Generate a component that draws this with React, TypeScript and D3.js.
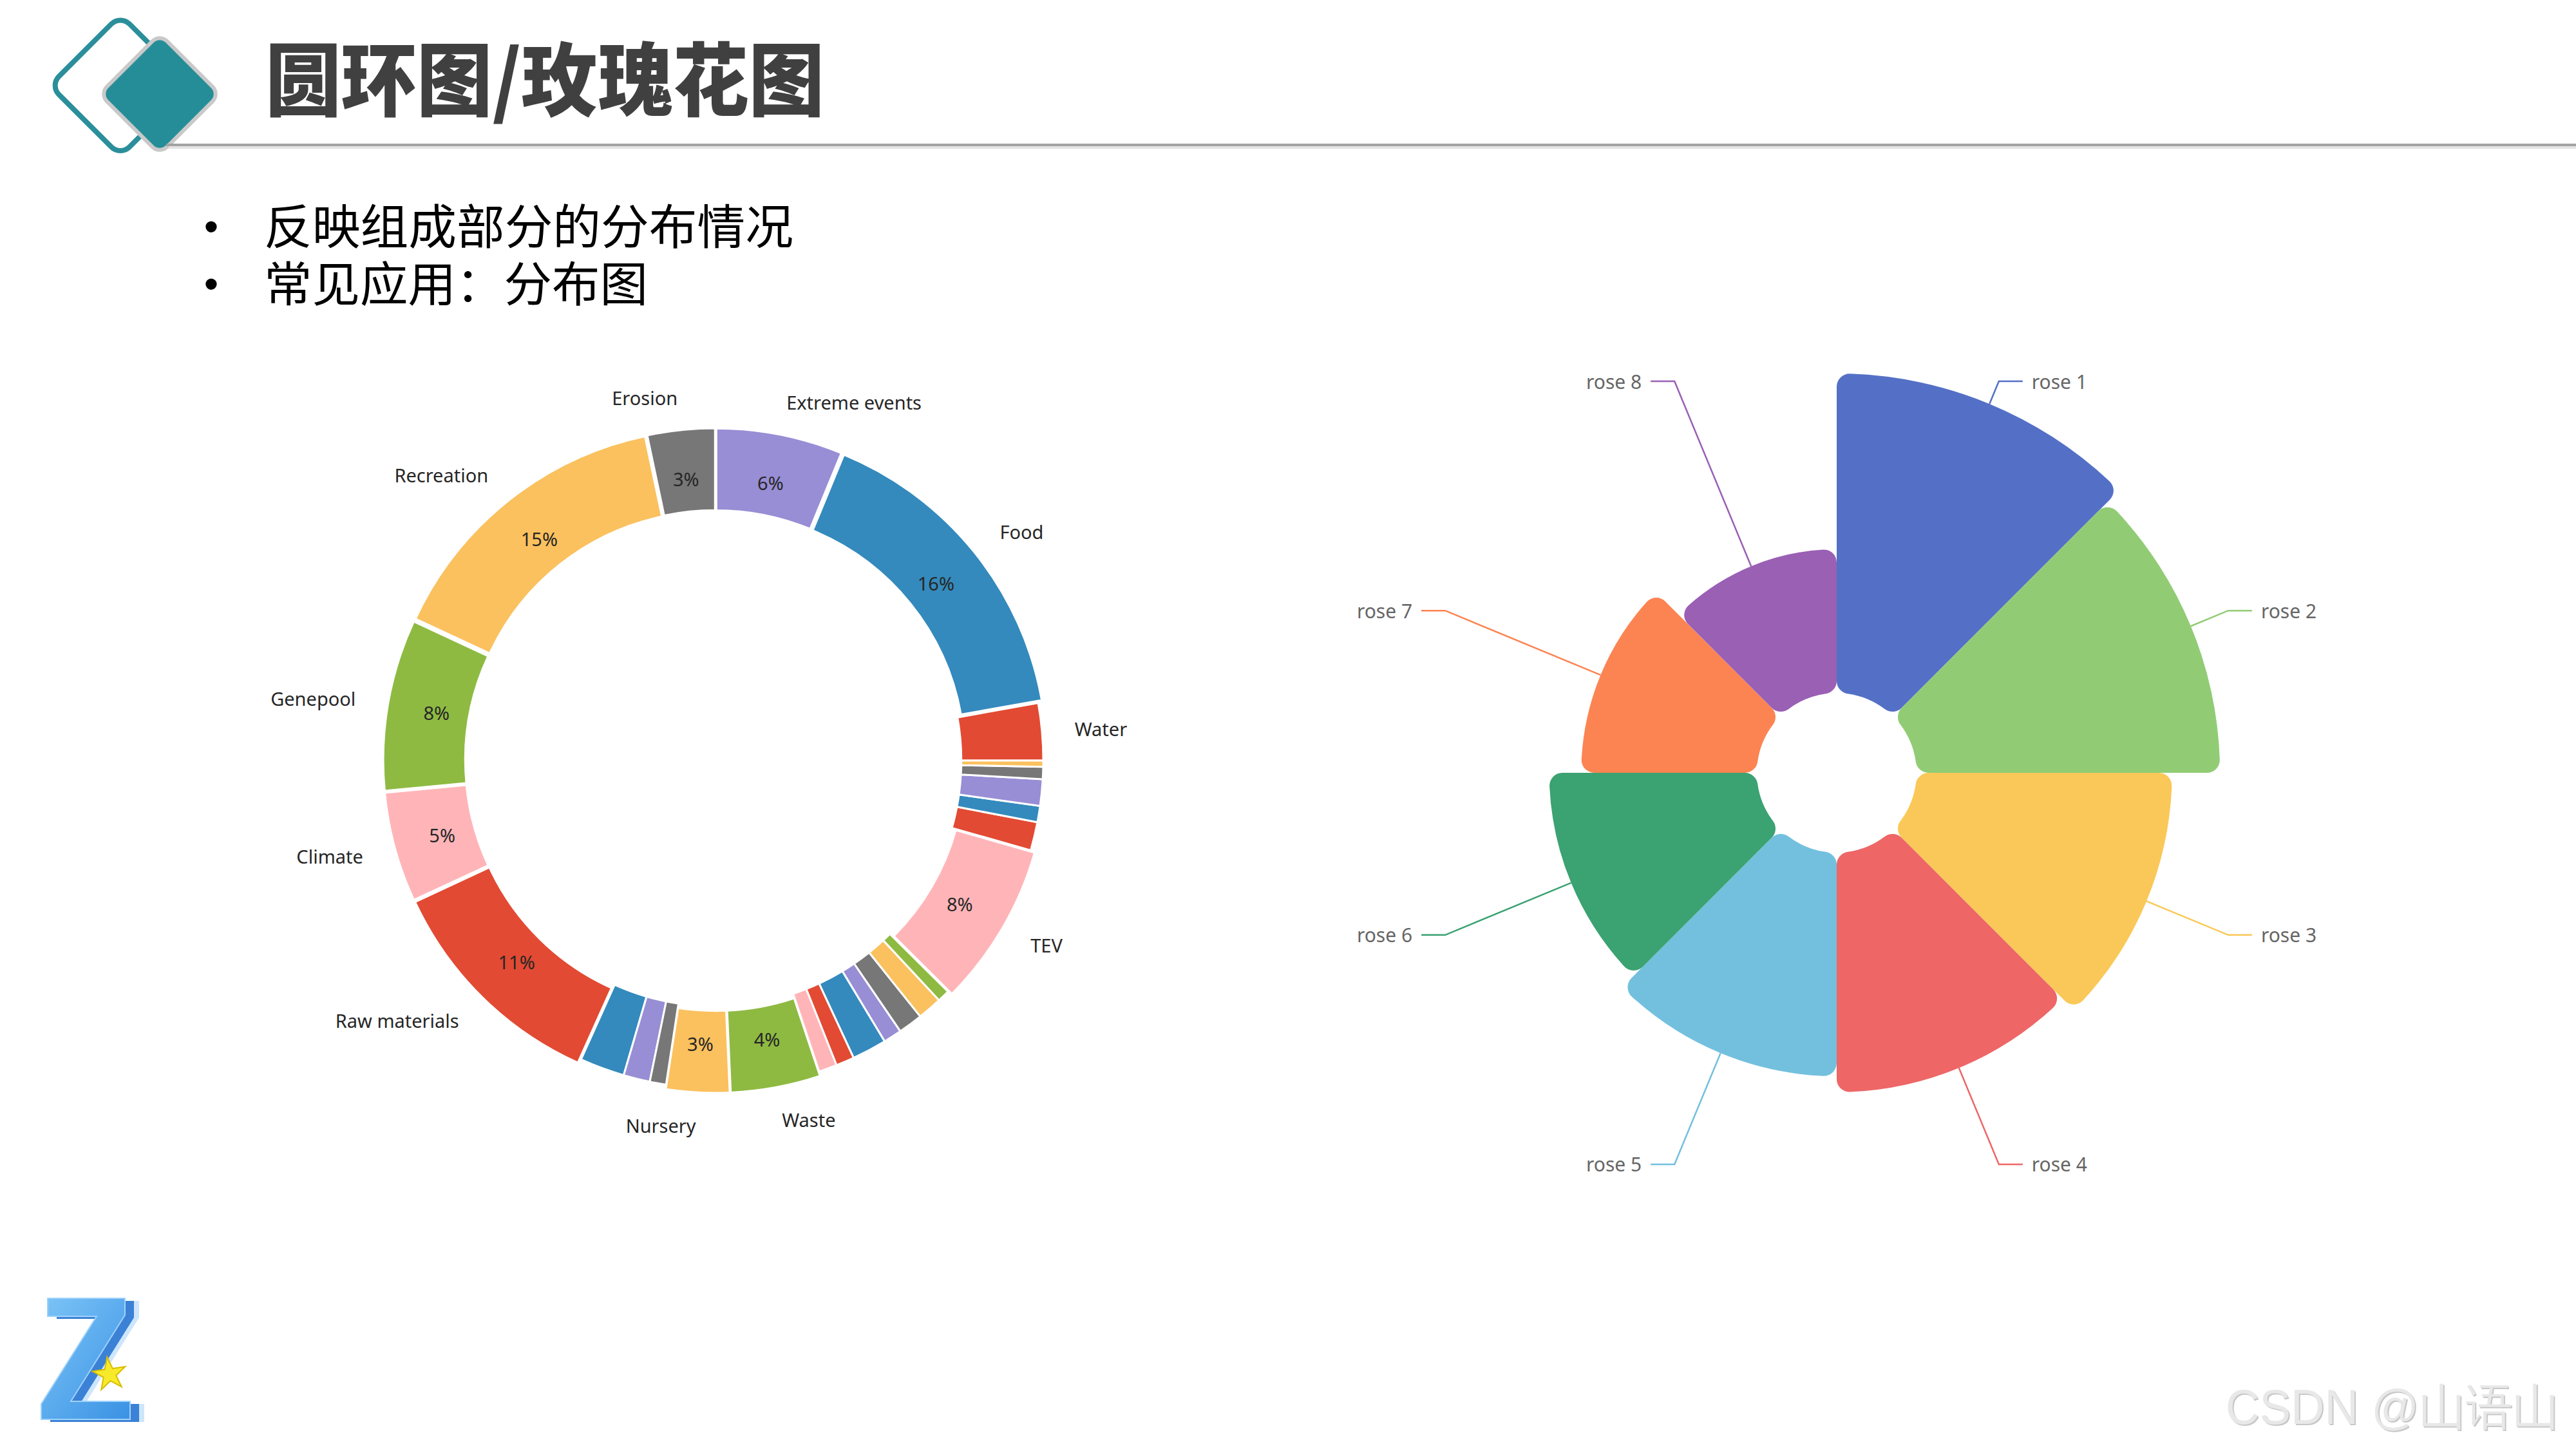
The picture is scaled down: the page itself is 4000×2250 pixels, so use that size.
import * as d3 from "d3";

const titleText = "圆环图/玫瑰花图";
const bulletLines = ["反映组成部分的分布情况", "常见应用：分布图"];
const watermark = "CSDN @山语山";

// donut (matplotlib ggplot cycle), counter-clockwise from 3 o'clock
const donutLabels = [
  "Water", "Food", "Extreme events", "Erosion", "Recreation", "Genepool", "Climate", "Raw materials",
  "", "", "", "Nursery", "Waste", "", "", "", "", "", "", "", "TEV", "", "", "", "", "",
];
const donutValues = [
  2.8, 15.9, 6.2, 3.3, 14.7, 8.4, 5.4, 11.3,
  2.2, 1.3, 0.8, 3.1, 4.4, 0.9, 0.9, 1.7, 0.9, 1.2, 1.2, 0.6, 8.0, 1.4, 0.8, 1.3, 0.6, 0.3,
];
const donutColors = ["#E24A33", "#348ABD", "#988ED5", "#777777", "#FBC15E", "#8EBA42", "#FFB5B8"];

// nightingale rose
const roseNames = ["rose 1", "rose 2", "rose 3", "rose 4", "rose 5", "rose 6", "rose 7", "rose 8"];
const roseValues = [40, 38, 32, 30, 28, 26, 22, 18];
const roseColors = ["#5470c6", "#91cc75", "#fac858", "#ee6666", "#73c0de", "#3ba272", "#fc8452", "#9a60b4"];

const W = 4000;
const H = 2250;

function Header() {
  return (
    <g>
      <rect x={110} y={55} width={155} height={155} rx={20} fill="none" stroke="#2b8f9b" strokeWidth={8}
        transform="rotate(45 187 132)" />
      <rect x={182} y={80} width={132} height={132} rx={16} fill="#258d98" stroke="#c9c9c9" strokeWidth={6}
        transform="rotate(45 248 146)" />
      <line x1={262} x2={W} y1={229} y2={229} stroke="#e4e4e4" strokeWidth={4} />
      <line x1={258} x2={W} y1={225} y2={225} stroke="#a3a3a3" strokeWidth={4} />
      <text x={412} y={170} fontFamily="'Noto Sans CJK SC', sans-serif" fontWeight={900} fontSize={124}
        textLength={868} lengthAdjust="spacingAndGlyphs" fill="#404040">{titleText}</text>
      {bulletLines.map((t, i) => (
        <g key={t}>
          <text x={328} y={374 + i * 89} textAnchor="middle" fontFamily="'Liberation Sans', sans-serif"
            fontSize={64} fill="#000">•</text>
          <text x={410} y={379 + i * 89} fontFamily="'Noto Sans CJK SC', sans-serif" fontSize={74}
            textLength={i === 0 ? 822 : 596} lengthAdjust="spacingAndGlyphs" fill="#000">{t}</text>
        </g>
      ))}
    </g>
  );
}

function Donut() {
  const cx = 1111;
  const cy = 1181;
  const R = 509;
  const explode = 7;
  const total = d3.sum(donutValues);
  const pie = d3
    .pie<number>()
    .sort(null)
    .startAngle(Math.PI / 2)
    .endAngle(Math.PI / 2 - 2 * Math.PI);
  const arcs = pie(donutValues);
  const arc = d3.arc<d3.PieArcDatum<number>>().innerRadius(R * 0.75).outerRadius(R);

  return (
    <g transform={`translate(${cx},${cy})`} fontFamily="'Noto Sans', sans-serif" fontSize={29} fill="#262626">
      {arcs.map((a, i) => {
        const pct = (a.value / total) * 100;
        const mid = (a.startAngle + a.endAngle) / 2;
        const off = pct >= 3 ? d3.pointRadial(mid, explode) : [0, 0];
        const [lx, ly] = d3.pointRadial(mid, R * 1.1);
        const [px, py] = d3.pointRadial(mid, R * 0.85);
        return (
          <g key={i} transform={`translate(${off[0]},${off[1]})`}>
            <path d={arc(a) ?? ""} fill={donutColors[i % donutColors.length]} stroke="#fff" strokeWidth={3} />
            {pct >= 3 && (
              <text x={px} y={py} textAnchor="middle" dominantBaseline="central">{`${Math.round(pct)}%`}</text>
            )}
            {donutLabels[i] && (
              <text x={lx} y={ly} textAnchor={lx > 0 ? "start" : "end"} dominantBaseline="central">
                {donutLabels[i]}
              </text>
            )}
          </g>
        );
      })}
    </g>
  );
}

function Rose() {
  const cx = 2852;
  const cy = 1200;
  const r0 = 124;
  const rMax = 620;
  const rScale = d3.scaleLinear().domain([0, d3.max(roseValues)!]).range([r0, rMax]);
  const pie = d3.pie<number>().sort(null).value(() => 1);
  const arcs = pie(roseValues);
  const arc = d3
    .arc<d3.PieArcDatum<number>>()
    .innerRadius(r0)
    .outerRadius((d) => rScale(d.data))
    .cornerRadius(20);
  const labelR = rMax + 38;
  const len2 = 37;

  return (
    <g transform={`translate(${cx},${cy})`}>
      {arcs.map((a, i) => (
        <path key={i} d={arc(a) ?? ""} fill={roseColors[i]} />
      ))}
      {arcs.map((a, i) => {
        const mid = (a.startAngle + a.endAngle) / 2;
        const p1 = d3.pointRadial(mid, rScale(a.data));
        const p2 = d3.pointRadial(mid, labelR);
        const right = p2[0] > 0;
        const p3: [number, number] = [p2[0] + (right ? len2 : -len2), p2[1]];
        return (
          <g key={`l${i}`}>
            <path d={d3.line()([p1, p2, p3]) ?? ""} fill="none" stroke={roseColors[i]} strokeWidth={2.5} />
            <text x={p3[0] + (right ? 14 : -14)} y={p3[1]} textAnchor={right ? "start" : "end"}
              dominantBaseline="central" fontFamily="'Noto Sans', sans-serif" fontSize={30} fill="#666">
              {roseNames[i]}
            </text>
          </g>
        );
      })}
    </g>
  );
}

function Logo() {
  const z = "M74,2016 L194,2016 L194,2042 L110,2176 L202,2176 L202,2204 L64,2204 L64,2180 L150,2044 L74,2044 Z";
  const star = d3.symbol().type(d3.symbolStar).size(820)();
  return (
    <g>
      <defs>
        <linearGradient id="zfront" x1="0" y1="0" x2="1" y2="1">
          <stop offset="0" stopColor="#7cc4f7" />
          <stop offset="1" stopColor="#3a92e4" />
        </linearGradient>
      </defs>
      <path d={z} transform="translate(22,4)" fill="#b9dcfa" opacity={0.7} />
      <path d={z} transform="translate(14,4)" fill="#3b82d6" />
      <path d={z} fill="url(#zfront)" stroke="#9fd2fb" strokeWidth={2} />
      <path d={star ?? ""} transform="translate(170,2134) rotate(-8)" fill="#f6ea2a" stroke="#d9bd00" strokeWidth={2} />
    </g>
  );
}

export default function App() {
  return (
    <svg width={W} height={H} viewBox={`0 0 ${W} ${H}`}
      style={{ position: "absolute", left: 0, top: 0, background: "#fff" }}>
      <rect width={W} height={H} fill="#fff" />
      <Header />
      <Donut />
      <Rose />
      <Logo />
      <text x={3458} y={2213} fontFamily="'Liberation Sans', sans-serif" fontSize={76} fill="#c8c8c8"
        textLength={518} lengthAdjust="spacingAndGlyphs">{watermark}</text>
      <text x={3456} y={2211} fontFamily="'Liberation Sans', sans-serif" fontSize={76} fill="#e8e8e8"
        textLength={518} lengthAdjust="spacingAndGlyphs">{watermark}</text>
    </svg>
  );
}
